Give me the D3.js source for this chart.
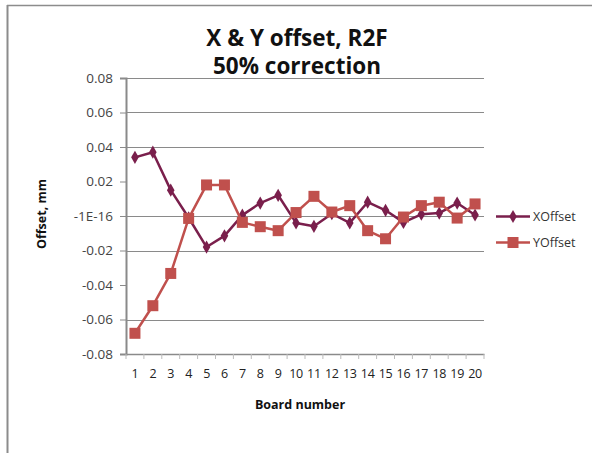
<!DOCTYPE html>
<html>
<head>
<meta charset="utf-8">
<script src="https://cdn.jsdelivr.net/npm/d3@7"></script>
<style>
  body { margin: 0; background: #fff; }
  svg { display: block; }
</style>
</head>
<body>
<svg></svg>
<script>
// board numbers 1..20
const boards = ["1","2","3","4","5","6","7","8","9","10","11","12","13","14","15","16","17","18","19","20"];
const xOffset = [0.034, 0.037, 0.015, -0.001, -0.018, -0.0115, 0.0005, 0.0075, 0.012, -0.004, -0.006, 0.0013, -0.004, 0.008, 0.0033, -0.0037, 0.001, 0.0017, 0.0075, 0.0006];
const yOffset = [-0.068, -0.052, -0.0333, -0.0014, 0.018, 0.018, -0.0037, -0.0062, -0.0085, 0.002, 0.0114, 0.0023, 0.006, -0.0085, -0.0132, -0.0006, 0.006, 0.008, -0.0012, 0.007];
const yTicks = [0.08, 0.06, 0.04, 0.02, 0, -0.02, -0.04, -0.06, -0.08];
const yTickLabels = ["0.08", "0.06", "0.04", "0.02", "-1E-16", "-0.02", "-0.04", "-0.06", "-0.08"];
// only these gridlines survive in the picture
const gridVals = [0.08, 0.06, 0.04, 0, -0.02, -0.06];

const series = [
  { name: "XOffset", values: xOffset, color: "#7a1f4c", shape: "diamond" },
  { name: "YOffset", values: yOffset, color: "#c0504d", shape: "square" }
];

var svgWidth = 592, svgHeight = 453;
var svg = d3.select("svg").attr("width", svgWidth).attr("height", svgHeight);

var font = "'Open Sans', sans-serif";

// outer chart border (only top & left show)
svg.append("line").attr("x1", 7).attr("x2", svgWidth).attr("y1", 5.5).attr("y2", 5.5)
  .attr("stroke", "#8c8c8c").attr("stroke-width", 1.5);
svg.append("line").attr("x1", 7.5).attr("x2", 7.5).attr("y1", 5).attr("y2", svgHeight)
  .attr("stroke", "#8c8c8c").attr("stroke-width", 2);

var plot = { left: 126, right: 484, top: 78, bottom: 354 };

var x = d3.scaleBand().domain(boards).range([plot.left, plot.right]);
var y = d3.scaleLinear().domain([-0.08, 0.08]).range([plot.bottom, plot.top]);

var g = svg.append("g");

// gridlines
g.selectAll(".grid").data(gridVals).enter().append("line")
  .attr("x1", plot.left).attr("x2", plot.right)
  .attr("y1", d => Math.round(y(d)) + 0.5).attr("y2", d => Math.round(y(d)) + 0.5)
  .attr("stroke", "#8a8a8a").attr("stroke-width", 1);

// y axis
var yAxis = d3.axisLeft(y).tickValues(yTicks).tickSize(6).tickPadding(7)
  .tickFormat((d, i) => yTickLabels[i]);
var yg = g.append("g").attr("transform", "translate(" + plot.left + ",0)").call(yAxis);
yg.select(".domain").attr("stroke", "#8a8a8a").attr("stroke-width", 2);
yg.selectAll(".tick line").attr("stroke", "#8a8a8a");
yg.selectAll(".tick text").attr("font-family", font).attr("font-size", 13.5).attr("fill", "#444");

// x axis
var xAxis = d3.axisBottom(x).tickSize(0).tickPadding(15);
var xg = g.append("g").attr("transform", "translate(0," + plot.bottom + ")").call(xAxis);
xg.select(".domain").attr("stroke", "#8a8a8a").attr("stroke-width", 1.5);
xg.selectAll(".tick text").attr("font-family", font).attr("font-size", 12.5)
  .attr("letter-spacing", -0.3).attr("fill", "#222");
xg.selectAll(".sep").data(boards.concat(["end"])).enter().append("line")
  .attr("x1", (d, i) => plot.left + i * x.bandwidth()).attr("x2", (d, i) => plot.left + i * x.bandwidth())
  .attr("y1", 0).attr("y2", 5).attr("stroke", "#bbb");

// lines and markers
var line = d3.line().x((d, i) => x(boards[i]) + x.bandwidth() / 2).y(d => y(d));
var diamond = d3.symbol().type(d3.symbolDiamond).size(50);

series.forEach(s => {
  g.append("path").attr("d", line(s.values)).attr("fill", "none")
    .attr("stroke", s.color).attr("stroke-width", 2.5).attr("stroke-linejoin", "round");
  var pts = g.selectAll(".pt-" + s.name).data(s.values).enter();
  if (s.shape === "square") {
    pts.append("rect")
      .attr("x", (d, i) => x(boards[i]) + x.bandwidth() / 2 - 5.5)
      .attr("y", d => y(d) - 5.5)
      .attr("width", 11).attr("height", 11).attr("fill", s.color);
  } else {
    pts.append("path").attr("d", diamond)
      .attr("transform", (d, i) => "translate(" + (x(boards[i]) + x.bandwidth() / 2) + "," + y(d) + ")")
      .attr("fill", s.color);
  }
});

// legend
var legend = svg.append("g");
series.forEach((s, i) => {
  var ly = 216.5 + i * 26;
  legend.append("line").attr("x1", 496).attr("x2", 530).attr("y1", ly).attr("y2", ly)
    .attr("stroke", s.color).attr("stroke-width", 2.5);
  if (s.shape === "square") {
    legend.append("rect").attr("x", 507.5).attr("y", ly - 5.5).attr("width", 11).attr("height", 11).attr("fill", s.color);
  } else {
    legend.append("path").attr("d", diamond).attr("transform", "translate(513," + ly + ")").attr("fill", s.color);
  }
  legend.append("text").attr("x", 533).attr("y", ly).attr("dy", "0.35em")
    .attr("font-family", font).attr("font-size", 12.5).attr("fill", "#333").text(s.name);
});

// titles
svg.append("text").attr("x", 297).attr("y", 46).attr("text-anchor", "middle")
  .attr("font-family", font).attr("font-weight", "bold").attr("font-size", 22.5).attr("fill", "#111")
  .text("X & Y offset, R2F");
svg.append("text").attr("x", 297).attr("y", 74).attr("text-anchor", "middle")
  .attr("font-family", font).attr("font-weight", "bold").attr("font-size", 22.5).attr("fill", "#111")
  .text("50% correction");

svg.append("text").attr("x", 300).attr("y", 409).attr("text-anchor", "middle")
  .attr("font-family", font).attr("font-weight", "bold").attr("font-size", 12.5).attr("fill", "#111")
  .text("Board number");

svg.append("text").attr("transform", "translate(46,214) rotate(-90)").attr("text-anchor", "middle")
  .attr("font-family", font).attr("font-weight", "bold").attr("font-size", 12.5).attr("fill", "#111")
  .text("Offset, mm");
</script>
</body>
</html>
